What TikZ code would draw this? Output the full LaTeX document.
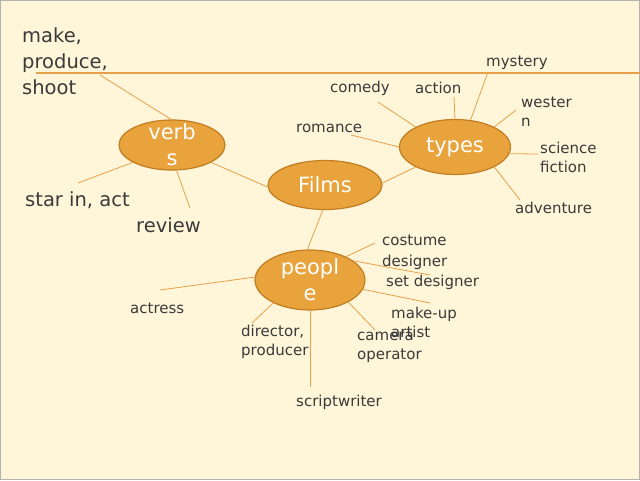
\documentclass[tikz,border=0pt]{standalone}
\usepackage{fontspec}
\setmainfont{DejaVu Sans}
\usetikzlibrary{shapes.geometric}
\definecolor{bg}{HTML}{FFF5D8}
\definecolor{orfill}{HTML}{E9A33C}
\definecolor{ordraw}{HTML}{C27C22}
\definecolor{orline}{HTML}{E6A04A}
\definecolor{txt}{HTML}{3A3A3A}
\begin{document}
\begin{tikzpicture}[x=1pt,y=-1pt,
  bubble/.style={ellipse, fill=orfill, draw=ordraw, line width=1.2pt, inner sep=0pt},
  btxt/.style={text=white, font=\fontsize{21}{26}\selectfont, align=center, inner sep=0pt},
  lbl/.style={anchor=west, inner sep=0pt, text=txt, font=\fontsize{15}{19}\selectfont, align=left},
  big/.style={lbl, font=\fontsize{19.5}{26}\selectfont},
  conn/.style={draw=orline, line width=0.8pt}]
\fill[bg] (0,0) rectangle (640,480);
\useasboundingbox (0,0) rectangle (640,480);
\draw[gray!60, line width=1pt] (0.5,0.5) rectangle (639.5,479.5);

% top rule
\coordinate (ruleL) at (36,73);
\coordinate (ruleR) at (640,73);
\draw[draw=orline, line width=1.3pt] (ruleL) -- (ruleR);

% bubbles
\node[bubble, minimum width=106pt, minimum height=50pt] (verbs) at (172,145) {};
\node[btxt] (verbsT) at (verbs) {verb\\s};
\node[bubble, minimum width=114pt, minimum height=49pt] (films) at (325,185) {};
\node[btxt] (filmsT) at (films) {Films};
\node[bubble, minimum width=111pt, minimum height=55pt] (types) at (455,147) {};
\node[btxt] (typesT) at (types) {types};
\node[bubble, minimum width=110pt, minimum height=60pt] (people) at (310,280) {};
\node[btxt] (peopleT) at (people) {peopl\\e};

% labels
\node[big] (make) at (22,61) {make,\\produce,\\shoot};
\node[big] (star) at (25,200) {star in, act};
\node[big] (review) at (136,225) {review};
\node[lbl] (comedy) at (330,88) {comedy};
\node[lbl] (action) at (415,88) {action};
\node[lbl] (mystery) at (486,63) {mystery};
\node[lbl] (romance) at (296,128) {romance};
\node[lbl] (western) at (521,112) {wester\\n};
\node[lbl] (scifi) at (540,157) {science\\fiction};
\node[lbl] (adventure) at (515,208) {adventure};
\node[lbl, font=\fontsize{15}{21}\selectfont] (costume) at (382,252) {costume\\designer};
\node[lbl] (setd) at (386,282) {set designer};
\node[lbl] (makeup) at (391,322) {make-up\\artist};
\node[lbl] (camera) at (357,347) {camera\\operator};
\node[lbl] (director) at (241,342) {director,\\producer};
\node[lbl] (script) at (296,402) {scriptwriter};
\node[lbl] (actress) at (130,308) {actress};

% free ends
\coordinate (eMake) at (100,75);
\coordinate (eStar) at (78,183);
\coordinate (eReview) at (190,208);
\coordinate (eRomance) at (351,135);
\coordinate (eComedy) at (378,102);
\coordinate (eAction) at (454,97);
\coordinate (eMystery) at (488,72);
\coordinate (eWestern) at (516,110);
\coordinate (eScifi) at (538,154);
\coordinate (eAdventure) at (520,200);
\coordinate (eCostume) at (375,243);
\coordinate (eSet) at (430,275);
\coordinate (eMakeup) at (430,303);
\coordinate (eCamera) at (375,330);
\coordinate (eScript) at (310,387);
\coordinate (eDirector) at (252,323);
\coordinate (eActress) at (160,290);

% connectors
\draw[conn] (verbs.92) -- (eMake);
\draw[conn] (verbs.204) -- (eStar);
\draw[conn] (verbs.280) -- (eReview);
\draw[conn] (verbs.336) -- (films.182);
\draw[conn] (films.2) -- (types.207);
\draw[conn] (films.265) -- (people.95);
\draw[conn] (types.180) -- (eRomance);
\draw[conn] (types.153) -- (eComedy);
\draw[conn] (types.90) -- (eAction);
\draw[conn] (types.60) -- (eMystery);
\draw[conn] (types.27) -- (eWestern);
\draw[conn] (types.353) -- (eScifi);
\draw[conn] (types.333) -- (eAdventure);
\draw[conn] (people.33) -- (eCostume);
\draw[conn] (people.24) -- (eSet);
\draw[conn] (people.350) -- (eMakeup);
\draw[conn] (people.330) -- (eCamera);
\draw[conn] (people.270) -- (eScript);
\draw[conn] (people.212) -- (eDirector);
\draw[conn] (people.177) -- (eActress);
\end{tikzpicture}
\end{document}
